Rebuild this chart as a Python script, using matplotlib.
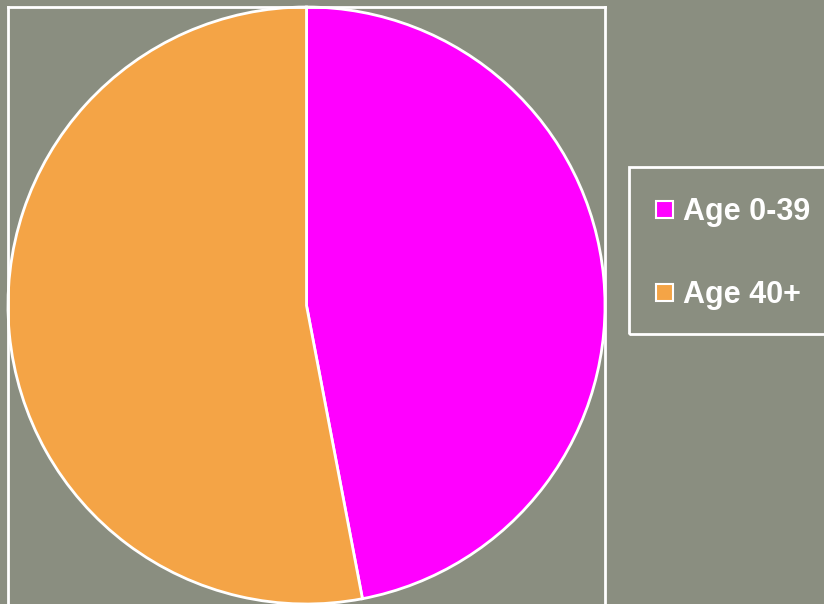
import matplotlib.pyplot as plt
from matplotlib.patches import Rectangle

# data
labels = ['Age 0-39', 'Age 40+']
shares = [47, 53]
colors = ['#ff00ff', '#f4a446']

W, H = 824, 604
bg = '#8a8e80'

fig = plt.figure(figsize=(W / 100, H / 100), dpi=100)
fig.patch.set_facecolor(bg)

def fx(px):
    return px / W

def fy(py):
    return 1 - py / H

# plot area (pixel box 8..605 x 7..606)
left, right, top, bottom = 8, 605, 7, 606
ax = fig.add_axes([fx(left), fy(bottom), fx(right - left), (bottom - top) / H])

ax.pie(shares, colors=colors, startangle=90, counterclock=False,
       radius=1, wedgeprops=dict(edgecolor='white', linewidth=2))
scale = (right - left) / 2
ax.set_xlim(-1, 1)
ax.set_ylim(1 - (bottom - top) / scale, 1)
ax.set_aspect('auto')

ax.set_frame_on(True)
ax.set_facecolor('none')
for s in ax.spines.values():
    s.set_visible(True)
    s.set_color('white')
    s.set_linewidth(2)
ax.set_xticks([])
ax.set_yticks([])

# legend box drawn by hand
lx0, ly0, ly1 = 629, 167, 334
fig.patches.append(Rectangle((fx(lx0), fy(ly1)), fx(W + 10 - lx0), (ly1 - ly0) / H,
                             transform=fig.transFigure, facecolor='none',
                             edgecolor='white', linewidth=2))
rows = [(201, 220), (284, 303)]
for (my, base), lab, col in zip(rows, labels, colors):
    fig.patches.append(Rectangle((fx(656), fy(my + 17)), 17 / W, 17 / H,
                                 transform=fig.transFigure, facecolor=col,
                                 edgecolor='white', linewidth=1.5))
    fig.text(fx(683), fy(base), lab, color='white',
             fontsize=22, fontweight='bold', family='Liberation Sans',
             va='baseline', ha='left')

fig.savefig('out.png', dpi=100, facecolor=bg)
